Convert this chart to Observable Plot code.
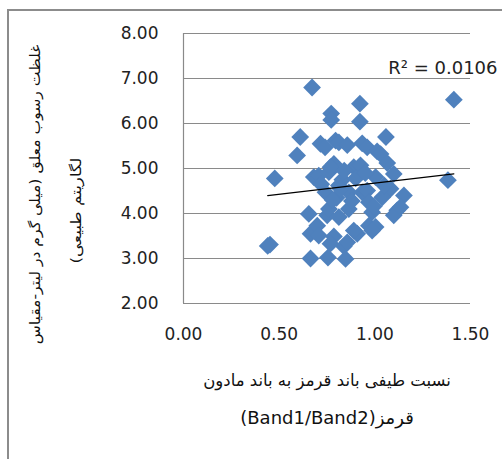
<!DOCTYPE html>
<html><head><meta charset="utf-8">
<script src="https://cdn.jsdelivr.net/npm/d3@7"></script>
<script src="https://cdn.jsdelivr.net/npm/@observablehq/plot@0.6"></script>
<style>
html,body{margin:0;padding:0;background:#fff;}
#wrap{position:relative;width:502px;height:459px;overflow:hidden;}
#frame{position:absolute;left:7px;top:9px;width:600px;height:600px;border-left:2px solid #8c8c8c;border-top:2px solid #8c8c8c;}
#chart{position:absolute;left:0;top:0;}
</style></head><body>
<div id="wrap"><div id="frame"></div><div id="chart"></div></div>
<script>
// Spectral ratio Band1/Band2 (x) and ln suspended sediment concentration (y)
const ratio = [0.440,0.452,0.477,0.594,0.610,0.672,0.772,0.772,0.922,0.922,1.058,1.413,1.382,
  0.716,0.740,0.795,0.812,0.856,0.934,0.960,1.012,1.030,1.065,
  0.681,0.707,0.760,0.786,0.768,0.890,0.925,1.004,1.099,0.830,
  0.742,0.812,0.864,0.934,0.960,1.082,1.152,1.039,0.800,
  0.655,0.751,0.760,0.812,0.864,0.969,0.986,0.995,1.117,1.099,1.134,
  0.664,0.699,0.707,0.786,0.908,0.890,0.969,1.004,0.986,
  0.768,0.838,0.856,0.664,0.755,0.847,
  0.720,0.780,0.880,0.900,0.840,0.820,0.950,1.050];
const lnConc = [3.28,3.31,4.78,5.29,5.70,6.80,6.22,6.08,6.44,6.04,5.70,6.53,4.74,
  5.55,5.47,5.62,5.58,5.52,5.56,5.47,5.38,5.32,5.12,
  4.81,4.84,4.92,5.10,5.03,5.03,5.07,4.81,4.88,4.75,
  4.47,4.62,4.47,4.47,4.51,4.55,4.40,4.36,4.35,
  3.99,3.96,4.10,3.92,4.10,4.25,4.03,4.16,4.07,3.96,4.14,
  3.55,3.73,3.51,3.49,3.55,3.62,3.73,3.70,3.62,
  3.33,3.27,3.36,3.00,3.02,2.99,
  4.65,4.30,4.28,4.78,4.95,4.55,4.90,4.62];
const xTicks = [0, 0.5, 1.0, 1.5];
const yTicks = [2, 3, 4, 5, 6, 7, 8];
// Linear trendline
const trendIntercept = 4.181;
const trendSlope = 0.495;
const rSquaredLabel = ["R\u00B2 = 0.0106"];
const xLabelLines = ["نسبت طیفی باند قرمز به باند مادون", "قرمز(Band1/Band2)"];
const yLabelLines = ["غلظت رسوب معلق (میلی گرم در لیتر-مقیاس", "لگاریتم طبیعی)"];

const points = ratio.map((r, i) => ({x: r, y: lnConc[i]}));
const xExt = d3.extent(ratio);
const trend = xExt.map(x => ({x, y: trendIntercept + trendSlope * x}));
const rtl = s => "\u202B" + s + "\u202C";

const font = "DejaVu Sans";
const plot = Plot.plot({
  width: 502, height: 459,
  marginLeft: 183, marginRight: 32, marginTop: 33, marginBottom: 156,
  style: {fontFamily: font, fontSize: "17px", color: "#222", background: "transparent", overflow: "visible"},
  x: {domain: [0, 1.5], ticks: xTicks, tickFormat: d => d.toFixed(2), tickSize: 0, tickPadding: 24, label: null},
  y: {domain: [2, 8], ticks: yTicks, tickFormat: d => d.toFixed(2), tickSize: 0, tickPadding: 25, label: null},
  marks: [
    Plot.ruleY(yTicks, {stroke: "#8a8a8a", strokeWidth: 1.2}),
    Plot.ruleX([0], {stroke: "#8a8a8a", strokeWidth: 1.2}),
    Plot.dot(points, {x: "x", y: "y", symbol: "diamond2", r: 8, fill: "#4F81BD", stroke: null}),
    Plot.line(trend, {x: "x", y: "y", stroke: "#000", strokeWidth: 1.2}),
    Plot.text(rSquaredLabel, {text: d => d, frameAnchor: "top-right", textAnchor: "end", dx: 27, dy: 28, fontSize: 18, fill: "#222"}),
    Plot.text([xLabelLines[0]], {text: d => rtl(d), frameAnchor: "bottom", textAnchor: "middle", lineAnchor: "middle", dy: 77, fontSize: 16.5, fill: "#111"}),
    Plot.text([xLabelLines[1]], {text: d => rtl(d), frameAnchor: "bottom", textAnchor: "middle", lineAnchor: "middle", dy: 115, fontSize: 18, fill: "#111"}),
    Plot.text([yLabelLines[0]], {text: d => rtl(d), frameAnchor: "left", textAnchor: "middle", rotate: -90, lineAnchor: "middle", dx: -148, dy: 26, fontSize: 14, fill: "#111"}),
    Plot.text([yLabelLines[1]], {text: d => rtl(d), frameAnchor: "left", textAnchor: "middle", rotate: -90, lineAnchor: "middle", dx: -107, dy: 42, fontSize: 14, fill: "#111"})
  ]
});
document.getElementById("chart").appendChild(plot);
// fit the rotated y-axis title lines to the length they have in the reference
const fit = [["غلظت", 300], ["لگاریتم", 106]];
d3.select(plot).selectAll("text").each(function() {
  for (const [key, len] of fit) {
    if (this.textContent.includes(key)) {
      const w = this.getComputedTextLength ? this.getComputedTextLength() : 0;
      const k = w > 0 ? len / w : 0.72;
      const t = this.getAttribute("transform") || "";
      this.setAttribute("transform", t + ` scale(${k},1)`);
    }
  }
});
</script>
</body></html>
